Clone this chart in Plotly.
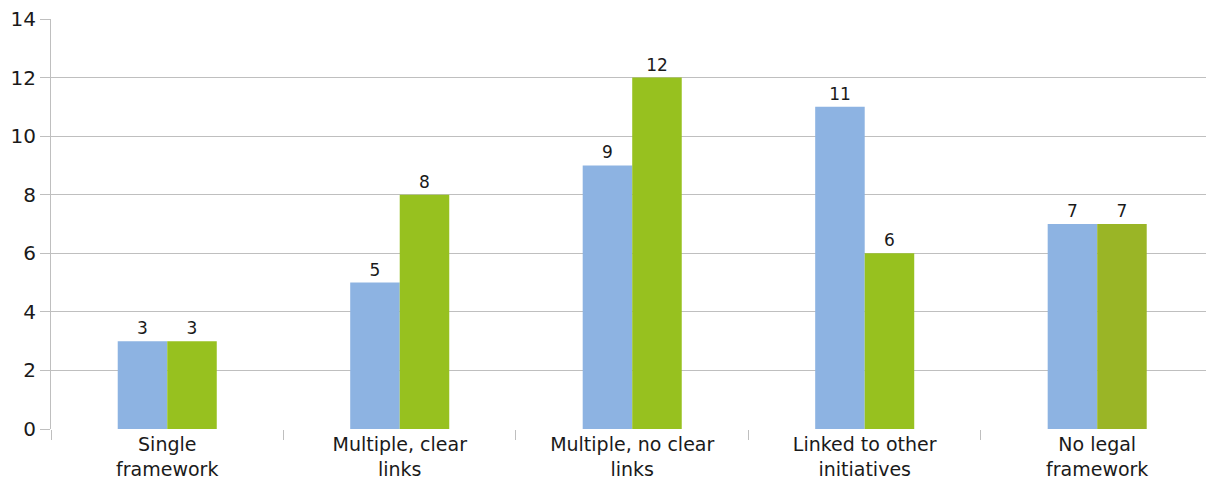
import plotly.graph_objects as go

categories = ["Single<br>framework", "Multiple, clear<br>links", "Multiple, no clear<br>links",
              "Linked to other<br>initiatives", "No legal<br>framework"]
series_a = [3, 5, 9, 11, 7]
series_b = [3, 8, 12, 6, 7]
colors_b = ["#97C11F", "#97C11F", "#97C11F", "#97C11F", "#9AB526"]
y_ticks = [0, 2, 4, 6, 8, 10, 12, 14]

FONT = "DejaVu Sans"
fig = go.Figure()
fig.add_trace(go.Bar(x=categories, y=series_a, marker=dict(color="#8DB3E2", line_width=0),
                     text=series_a, textposition="outside", cliponaxis=False,
                     textfont=dict(family=FONT, size=17, color="#1a1a1a")))
fig.add_trace(go.Bar(x=categories, y=series_b, marker=dict(color=colors_b, line_width=0),
                     text=series_b, textposition="outside", cliponaxis=False,
                     textfont=dict(family=FONT, size=17, color="#1a1a1a")))

fig.update_layout(
    width=1206, height=485,
    margin=dict(l=51, r=0, t=19, b=56),
    paper_bgcolor="white", plot_bgcolor="white",
    showlegend=False,
    barmode="group", bargap=0.574, bargroupgap=0,
    font=dict(family=FONT, size=19, color="#1a1a1a"),
    xaxis=dict(range=[-0.5, 4.468], tickson="boundaries", ticks="outside", ticklen=10,
               tickcolor="#BFBFBF", showline=False, showgrid=False,
               ticklabelstandoff=2,
               tickfont=dict(family=FONT, size=19)),
    yaxis=dict(range=[0, 14], tickvals=y_ticks, ticks="outside", ticklen=10,
               tickcolor="#BFBFBF", showgrid=True, gridcolor="#BFBFBF", gridwidth=1,
               showline=True, linecolor="#BFBFBF", zeroline=False,
               tickfont=dict(family=FONT, size=20)),
)
fig.write_html("out.html")
